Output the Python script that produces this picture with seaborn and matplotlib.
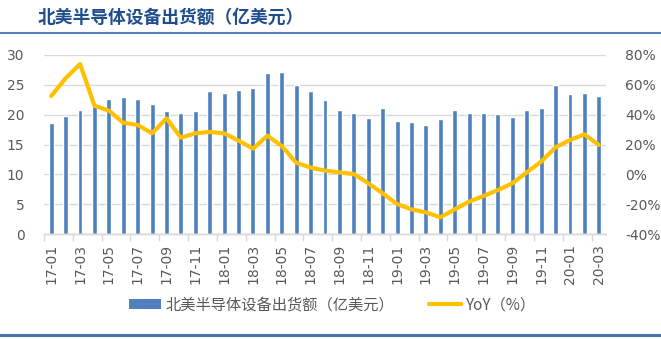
import numpy as np
import pandas as pd
import matplotlib
matplotlib.use("Agg")
import matplotlib.pyplot as plt
from matplotlib.lines import Line2D
from matplotlib.patches import Patch
import seaborn as sns

months = [f"{y}-{m:02d}" for y in ("17", "18", "19") for m in range(1, 13)] + ["20-01", "20-02", "20-03"]

shipments = [18.6, 19.8, 20.8, 21.5, 22.7, 23.0, 22.7, 21.8, 20.6, 20.2, 20.6, 24.0,
             23.7, 24.2, 24.4, 26.9, 27.1, 24.9, 23.9, 22.4, 20.8, 20.3, 19.4, 21.1,
             19.0, 18.7, 18.3, 19.3, 20.7, 20.3, 20.3, 20.1, 19.6, 20.8, 21.2, 25.0,
             23.4, 23.7, 23.1]

yoy = [52.5, 64.4, 74.0, 46.0, 42.7, 34.6, 33.1, 27.5, 37.5, 24.6, 27.5, 28.4,
       27.5, 22.6, 17.2, 25.9, 19.0, 7.8, 4.5, 2.5, 1.3, 0.2, -6.0, -12.7,
       -19.9, -23.5, -25.5, -28.8, -23.5, -18.3, -14.5, -10.5, -6.0, 1.3, 8.5, 18.1,
       23.0, 26.8, 19.7]

bar_label = "北美半导体设备出货额（亿美元）"
line_label = "YoY（%）"
title = "北美半导体设备出货额（亿美元）"

df = pd.DataFrame({"month": months, "shipments": shipments, "yoy": yoy})
df["pos"] = np.arange(len(df))

sns.set_theme(style="white")
plt.rcParams["font.family"] = ["Noto Sans CJK SC", "DejaVu Sans"]

BLUE = "#4F81BD"
GOLD = "#FFC000"
GRAY = "#595959"
GRID = "#D9D9D9"

fig = plt.figure(figsize=(6.61, 3.39), dpi=100)
ax = fig.add_axes([44 / 661, 1 - 234 / 339, (606 - 44) / 661, (234 - 55) / 339])

sns.barplot(data=df, x="month", y="shipments", color=BLUE, width=0.34,
            saturation=1, ax=ax, zorder=2)
ax.set_xlim(-0.5, len(df) - 0.5)
ax.set_ylim(0, 30)
ax.set_yticks(np.arange(0, 31, 5))
ax.yaxis.grid(True, color=GRID, linewidth=1, zorder=0)
ax.set_axisbelow(True)
ax.set_xlabel("")
ax.set_ylabel("")

ax2 = ax.twinx()
sns.lineplot(data=df, x="pos", y="yoy", color=GOLD, linewidth=3, ax=ax2,
             zorder=3)
ax2.set_ylim(-40, 80)
ax2.set_yticks(np.arange(-40, 81, 20))
ax2.set_yticklabels([f"{v}%" for v in range(-40, 81, 20)])
ax2.set_xlim(-0.5, len(df) - 0.5)
ax2.set_xlabel("")
ax2.set_ylabel("")
ax2.grid(False)

for a in (ax, ax2):
    for s in ("top", "left", "right"):
        a.spines[s].set_visible(False)
    a.spines["bottom"].set_color(GRID)
    a.spines["bottom"].set_linewidth(1)

# x ticks: label every other month, tick marks between categories
ax.set_xticks(df["pos"][::2])
ax.set_xticklabels(df["month"][::2], rotation=90)
ax.set_xticks(np.arange(-0.5, len(df), 2), minor=True)
ax.tick_params(axis="x", which="major", length=0, pad=7, labelsize=10,
               labelcolor=GRAY)
ax.tick_params(axis="x", which="minor", length=5, width=1, color=GRID,
               direction="out", bottom=True)
ax.tick_params(axis="y", length=0, pad=14, labelsize=10, labelcolor=GRAY)
ax2.tick_params(axis="y", length=0, pad=14, labelsize=10, labelcolor=GRAY)
for lab in ax.get_xticklabels() + ax.get_yticklabels() + ax2.get_yticklabels():
    lab.set_fontfamily(["DejaVu Sans"])

handles = [Patch(facecolor=BLUE, edgecolor="none"),
           Line2D([0], [0], color=GOLD, linewidth=3)]
fig.legend(handles, [bar_label, line_label], loc="center",
           bbox_to_anchor=(0.503, 1 - 305 / 339), ncol=2, frameon=False,
           fontsize=11, handlelength=2.1, handleheight=0.6,
           handletextpad=0.3, columnspacing=2.3, labelcolor=GRAY)

fig.text(38 / 661, 1 - 18 / 339, title, fontsize=12.8, fontweight="bold",
         color="#1F4E8C", ha="left", va="center")
fig.add_artist(Line2D([0, 1], [1 - 33 / 339] * 2, color="#4F81BD",
                      linewidth=1.5, transform=fig.transFigure))
fig.add_artist(Line2D([0, 1], [1 - 335 / 339] * 2, color="#4674A8",
                      linewidth=2.2, transform=fig.transFigure))

fig.savefig("out.png", dpi=100)
